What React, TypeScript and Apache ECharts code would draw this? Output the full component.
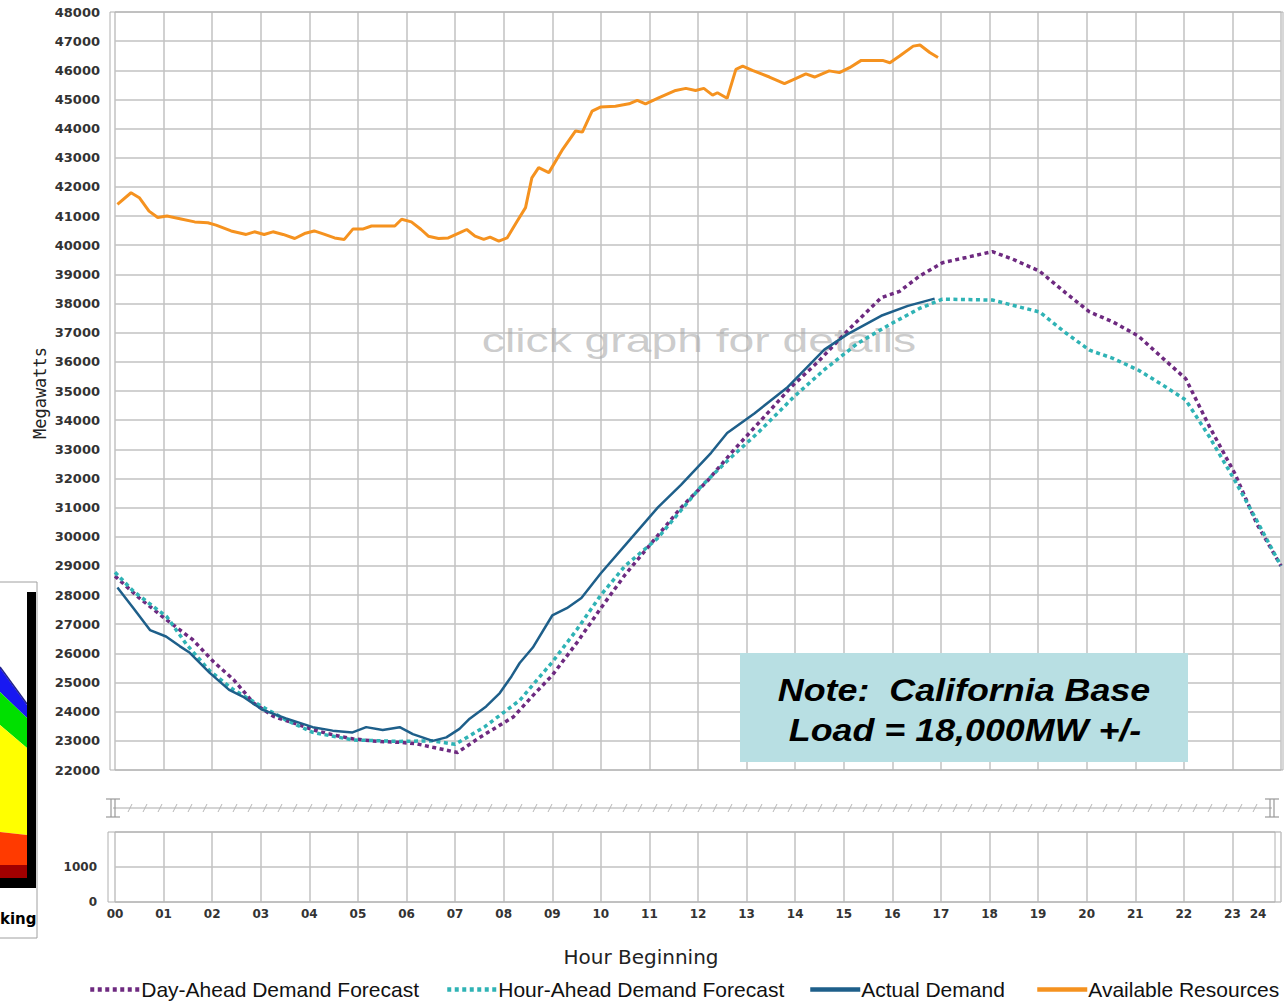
import React, { useEffect, useRef } from "react";
import * as echarts from "echarts";

// ---------- DATA ----------
const seriesNames = [
  "Day-Ahead Demand Forecast",
  "Hour-Ahead Demand Forecast",
  "Actual Demand",
  "Available Resources",
];

const dayAheadHours = [0, 0.5, 1.07, 1.6, 2.03, 2.44, 2.85, 3.26, 3.7, 4.07, 4.5, 4.89, 5.4, 5.86, 6.2, 6.54, 7.05, 7.5, 8.2, 8.6, 9.0, 9.5, 10.0, 10.5, 11.1, 11.65, 12.2, 12.75, 13.3, 13.92, 14.47, 15.08, 15.77, 16.15, 16.56, 17.03, 17.52, 18.06, 18.48, 19.03, 19.58, 20.06, 20.54, 21.06, 21.57, 22.04, 22.53, 23.05, 23.5, 24.0];
const dayAheadMW = [28650, 27900, 27140, 26470, 25710, 25100, 24300, 23840, 23600, 23380, 23200, 23070, 22980, 22950, 22900, 22780, 22600, 23110, 23820, 24550, 25250, 26350, 27550, 28700, 29900, 31000, 31930, 33000, 34000, 35140, 36000, 37070, 38200, 38420, 38940, 39400, 39580, 39780, 39520, 39110, 38350, 37710, 37370, 36890, 36120, 35420, 33770, 32170, 30450, 29000];

const hourAheadHours = [0, 0.38, 1.07, 1.47, 1.95, 2.44, 2.9, 3.5, 4.07, 4.9, 5.86, 6.54, 7.0, 7.6, 8.33, 9.0, 9.5, 10.0, 10.5, 11.17, 12.06, 12.6, 13.23, 13.98, 14.6, 15.29, 15.98, 16.56, 17.03, 18.06, 18.48, 19.03, 19.58, 20.06, 20.54, 21.06, 21.57, 22.04, 22.53, 23.05, 23.5, 24.0];
const hourAheadMW = [28780, 28130, 27250, 26310, 25400, 24750, 24300, 23730, 23290, 23030, 22980, 23000, 22880, 23470, 24390, 25700, 26800, 28000, 29000, 29950, 31720, 32600, 33560, 34810, 35730, 36640, 37310, 37830, 38150, 38120, 37940, 37710, 36980, 36400, 36120, 35720, 35200, 34690, 33420, 31930, 30560, 29000];

const actualHours = [0.05, 0.38, 0.72, 1.05, 1.33, 1.54, 1.95, 2.35, 2.63, 3.04, 3.52, 4.07, 4.48, 4.89, 5.17, 5.51, 5.86, 6.13, 6.54, 6.82, 7.09, 7.3, 7.64, 7.92, 8.16, 8.33, 8.6, 9.0, 9.3, 9.6, 10.0, 10.6, 11.17, 11.65, 12.27, 12.6, 13.16, 13.85, 14.6, 15.08, 15.77, 16.32, 16.87];
const actualMW = [28260, 27550, 26800, 26580, 26250, 26020, 25330, 24750, 24520, 24060, 23770, 23470, 23350, 23290, 23470, 23370, 23470, 23230, 23000, 23120, 23410, 23760, 24180, 24640, 25210, 25670, 26200, 27300, 27550, 27900, 28750, 29900, 31000, 31780, 32880, 33560, 34230, 35140, 36420, 36950, 37580, 37920, 38170];

const availableHours = [0.05, 0.33, 0.5, 0.7, 0.88, 1.07, 1.36, 1.64, 1.91, 2.08, 2.39, 2.7, 2.87, 3.07, 3.25, 3.46, 3.7, 3.9, 4.1, 4.3, 4.52, 4.72, 4.9, 5.11, 5.28, 5.76, 5.9, 6.1, 6.3, 6.45, 6.66, 6.86, 7.1, 7.24, 7.41, 7.59, 7.72, 7.9, 8.07, 8.28, 8.45, 8.58, 8.72, 8.93, 9.2, 9.48, 9.62, 9.82, 9.99, 10.3, 10.58, 10.75, 10.92, 11.2, 11.54, 11.75, 11.95, 12.12, 12.3, 12.4, 12.6, 12.78, 12.92, 13.12, 13.47, 13.78, 14.02, 14.22, 14.4, 14.7, 14.91, 15.12, 15.36, 15.8, 15.95, 16.15, 16.43, 16.57, 16.77, 16.94];
const availableMW = [41400, 41800, 41630, 41170, 40950, 41000, 40900, 40800, 40770, 40690, 40490, 40370, 40460, 40370, 40460, 40370, 40230, 40400, 40490, 40380, 40250, 40200, 40560, 40560, 40660, 40660, 40890, 40800, 40540, 40310, 40230, 40250, 40430, 40540, 40310, 40200, 40280, 40140, 40250, 40830, 41290, 42310, 42660, 42490, 43250, 43920, 43880, 44600, 44740, 44770, 44850, 44970, 44850, 45060, 45310, 45380, 45310, 45380, 45150, 45230, 45040, 46030, 46140, 46000, 45770, 45540, 45720, 45880, 45770, 45980, 45920, 46090, 46340, 46340, 46260, 46490, 46830, 46870, 46610, 46440];

const hourTicks = [0, 24];
const mwRange = [22000, 48000];
const lowerRange = [0, 2000];

const seriesColors = ["#6e2a80", "#2fb3b5", "#1e5f8a", "#f5921f"];

const zip = (xs: number[], ys: number[]) => xs.map((x, i) => [x, ys[i]]);

// break-line decoration ticks
function breakTicks() {
  const els: any[] = [];
  for (let x = 130; x < 1262; x += 15) {
    els.push({
      type: "line",
      shape: { x1: x - 2, y1: 812, x2: x + 2, y2: 804 },
      style: { stroke: "#b8b8b8", lineWidth: 1 },
      silent: true,
    });
  }
  return els;
}

function ibeam(cx: number) {
  const st = { stroke: "#999", lineWidth: 1.2 };
  return [
    { type: "line", shape: { x1: cx - 2, y1: 799, x2: cx - 2, y2: 817 }, style: st },
    { type: "line", shape: { x1: cx + 2, y1: 799, x2: cx + 2, y2: 817 }, style: st },
    { type: "line", shape: { x1: cx - 7, y1: 799, x2: cx + 7, y2: 799 }, style: st },
    { type: "line", shape: { x1: cx - 7, y1: 817, x2: cx + 7, y2: 817 }, style: st },
  ];
}

export default function App() {
  const ref = useRef<HTMLDivElement>(null);

  useEffect(() => {
    if (!ref.current) return;
    const chart = echarts.init(ref.current, undefined, { renderer: "svg" });

    const axisLabelStyle = {
      fontFamily: "DejaVu Sans",
      fontWeight: "bold" as const,
      fontSize: 13,
      color: "#333",
    };
    const gridLine = { show: true, lineStyle: { color: "#c2c2c2", width: 1.5 } };

    const lineSeries = (idx: number, data: number[][], lineStyle: any, z: number) => ({
      name: seriesNames[idx],
      type: "line",
      xAxisIndex: 0,
      yAxisIndex: 0,
      data,
      showSymbol: false,
      symbol: "none",
      z,
      lineStyle: { color: seriesColors[idx], ...lineStyle },
      itemStyle: { color: seriesColors[idx] },
    });

    const legendBase = {
      top: 979,
      itemWidth: 50,
      itemHeight: 12,
      itemStyle: { opacity: 0 },
      lineStyle: { width: 4.5 },
      textStyle: { fontFamily: "Liberation Sans, Arial", fontSize: 21, color: "#111", padding: [0, 0, 0, -4] },
      selectedMode: false,
      padding: 0,
    };

    const option: any = {
      animation: false,
      backgroundColor: "#fff",
      grid: [
        { left: 115, top: 12, width: 1166, height: 758 },
        { left: 115, top: 832, width: 1166, height: 70 },
      ],
      xAxis: [
        {
          type: "value",
          gridIndex: 0,
          min: hourTicks[0],
          max: hourTicks[1],
          interval: 1,
          axisLabel: { show: false },
          axisTick: { show: false },
          axisLine: { show: false },
          splitLine: gridLine,
        },
        {
          type: "value",
          gridIndex: 1,
          min: hourTicks[0],
          max: hourTicks[1],
          interval: 1,
          axisTick: { show: false },
          axisLine: { show: false },
          splitLine: gridLine,
          axisLabel: {
            ...axisLabelStyle,
            fontSize: 12,
            margin: 6,
            formatter: (v: number) =>
              v === 24 ? "{s|24}" : String(v).padStart(2, "0"),
            rich: { s: { ...axisLabelStyle, fontSize: 12, padding: [0, 46, 0, 0] } },
          },
        },
      ],
      yAxis: [
        {
          type: "value",
          gridIndex: 0,
          min: mwRange[0],
          max: mwRange[1],
          interval: 1000,
          axisTick: { show: false },
          axisLine: { show: false },
          splitLine: gridLine,
          axisLabel: { ...axisLabelStyle, margin: 15, formatter: (v: number) => String(v) },
        },
        {
          type: "value",
          gridIndex: 1,
          min: lowerRange[0],
          max: lowerRange[1],
          interval: 1000,
          axisTick: { show: false },
          axisLine: { show: false },
          splitLine: gridLine,
          axisLabel: {
            ...axisLabelStyle,
            fontSize: 12,
            margin: 18,
            formatter: (v: number) => (v === 2000 ? "" : String(v)),
          },
        },
      ],
      legend: [
        { ...legendBase, left: 88, data: [seriesNames[0]] },
        { ...legendBase, left: 445, data: [seriesNames[1]] },
        { ...legendBase, left: 808, data: [seriesNames[2]] },
        { ...legendBase, left: 1035, data: [seriesNames[3]] },
      ],
      series: [
        lineSeries(0, zip(dayAheadHours, dayAheadMW), { width: 3.5, type: [4, 3.5] }, 3),
        lineSeries(1, zip(hourAheadHours, hourAheadMW), { width: 3.5, type: [4, 3.5] }, 4),
        lineSeries(2, zip(actualHours, actualMW), { width: 2.5, type: "solid" }, 5),
        lineSeries(3, zip(availableHours, availableMW), { width: 3, type: "solid" }, 6),
      ],
      graphic: [
        // plot borders
        {
          type: "rect",
          shape: { x: 110, y: 12, width: 1173, height: 758 },
          style: { fill: "none", stroke: "#b0b0b0", lineWidth: 1 },
          silent: true,
          z: 1,
        },
        {
          type: "rect",
          shape: { x: 108, y: 832, width: 1167, height: 70 },
          style: { fill: "none", stroke: "#b0b0b0", lineWidth: 1 },
          silent: true,
          z: 1,
        },
        // axis break line
        {
          type: "line",
          shape: { x1: 113, y1: 808, x2: 1272, y2: 808 },
          style: { stroke: "#aaa", lineWidth: 1 },
          silent: true,
        },
        ...breakTicks(),
        ...ibeam(113),
        ...ibeam(1272),
        // watermark
        {
          type: "text",
          x: 699,
          y: 340,
          scaleX: 1.36,
          z: 1,
          silent: true,
          style: {
            text: "click graph for details",
            fontFamily: "Liberation Sans, Arial",
            fontSize: 34,
            fill: "rgba(170,170,170,0.6)",
            align: "center",
            verticalAlign: "middle",
          },
        },
        // axis titles
        {
          type: "text",
          x: 40,
          y: 393,
          rotation: Math.PI / 2,
          style: {
            text: "Megawatts",
            fontFamily: "DejaVu Sans Mono",
            fontSize: 17,
            fill: "#222",
            align: "center",
            verticalAlign: "middle",
          },
        },
        {
          type: "text",
          x: 641,
          y: 957,
          style: {
            text: "Hour Beginning",
            fontFamily: "DejaVu Sans",
            fontSize: 20,
            fill: "#222",
            align: "center",
            verticalAlign: "middle",
          },
        },
        // note box
        {
          type: "rect",
          shape: { x: 740, y: 653, width: 448, height: 109 },
          style: { fill: "#b8dfe3" },
          z: 20,
        },
        {
          type: "text",
          x: 964,
          y: 690,
          scaleX: 1.12,
          z: 21,
          style: {
            text: "Note:  California Base",
            fontFamily: "Liberation Sans, Arial",
            fontWeight: "bold",
            fontStyle: "italic",
            fontSize: 32,
            fill: "#000",
            align: "center",
            verticalAlign: "middle",
          },
        },
        {
          type: "text",
          x: 965,
          y: 730,
          scaleX: 1.12,
          z: 21,
          style: {
            text: "Load = 18,000MW +/-",
            fontFamily: "Liberation Sans, Arial",
            fontWeight: "bold",
            fontStyle: "italic",
            fontSize: 32,
            fill: "#000",
            align: "center",
            verticalAlign: "middle",
          },
        },
        // cropped side picture (left edge)
        {
          type: "rect",
          shape: { x: -2, y: 582, width: 39, height: 356 },
          style: { fill: "#fff", stroke: "#a0a0a0", lineWidth: 1 },
        },
        {
          type: "polygon",
          shape: { points: [[0, 668], [27, 705], [27, 718], [0, 692]] },
          style: { fill: "#1818f2" },
        },
        {
          type: "polyline",
          shape: { points: [[0, 667], [27, 704]] },
          style: { stroke: "#22228a", lineWidth: 1.5 },
        },
        {
          type: "polygon",
          shape: { points: [[0, 692], [27, 718], [27, 748], [0, 725]] },
          style: { fill: "#00e000" },
        },
        {
          type: "polygon",
          shape: { points: [[0, 725], [27, 748], [27, 835], [0, 832]] },
          style: { fill: "#ffff00" },
        },
        {
          type: "polygon",
          shape: { points: [[0, 832], [27, 835], [27, 865], [0, 865]] },
          style: { fill: "#ff3a00" },
        },
        {
          type: "rect",
          shape: { x: 0, y: 865, width: 27, height: 13 },
          style: { fill: "#a00000" },
        },
        {
          type: "rect",
          shape: { x: 27, y: 592, width: 9, height: 296 },
          style: { fill: "#000" },
        },
        {
          type: "rect",
          shape: { x: 0, y: 878, width: 36, height: 10 },
          style: { fill: "#000" },
        },
        {
          type: "text",
          x: 0,
          y: 926,
          style: {
            text: "king",
            fontFamily: "DejaVu Sans",
            fontWeight: "bold",
            fontSize: 15,
            fill: "#000",
            align: "left",
            verticalAlign: "bottom",
          },
        },
      ],
    };

    chart.setOption(option);
    return () => chart.dispose();
  }, []);

  return (
    <div
      ref={ref}
      style={{ position: "absolute", left: 0, top: 0, width: 1288, height: 1001 }}
    />
  );
}
